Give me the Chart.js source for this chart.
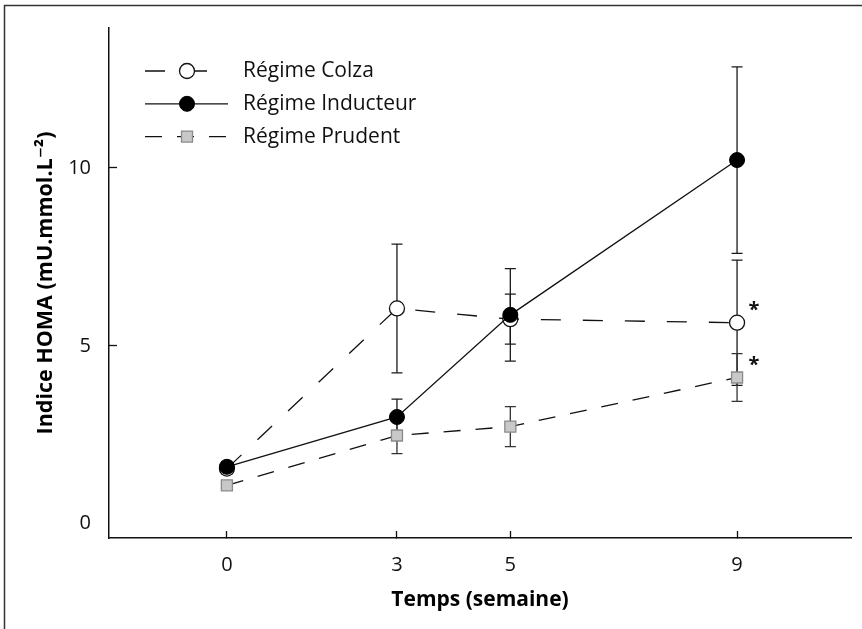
<!DOCTYPE html>
<html>
<head>
<meta charset="utf-8">
<script src="https://cdn.jsdelivr.net/npm/chart.js@4.4.0/dist/chart.umd.min.js"></script>
<style>
  html, body { margin: 0; padding: 0; background: #fff; }
  #wrap { width: 862px; height: 629px; }
</style>
</head>
<body>
<div id="wrap"><canvas id="homa"></canvas></div>
<script>
// HOMA index by week, mean +/- error
const weeks = [0, 3, 5, 9];
const colza = [1.55, 6.05, 5.75, 5.65];
const colzaErr = [0.15, 1.81, 0.7, 1.76];
const inducteur = [1.6, 3.0, 5.87, 10.22];
const inducteurErr = [0.15, 0.5, 1.3, 2.62];
const prudent = [1.08, 2.48, 2.73, 4.11];
const prudentErr = [0.12, 0.51, 0.56, 0.67];
const colzaSig = [false, false, false, true];
const prudentSig = [false, false, false, true];
const yTicks = [0, 5, 10];
const names = ["Régime Colza", "Régime Inducteur", "Régime Prudent"];

const FONT = "'Open Sans', 'DejaVu Sans', sans-serif";

function pts(vals) {
  return weeks.map((w, i) => ({ x: w, y: vals[i] }));
}

const frame = {
  id: "frame",
  beforeDraw(chart) {
    const ctx = chart.ctx;
    ctx.save();
    ctx.fillStyle = "#fff";
    ctx.fillRect(0, 0, chart.width, chart.height);
    ctx.strokeStyle = "#333";
    ctx.lineWidth = 1.5;
    ctx.beginPath();
    ctx.moveTo(4.5, chart.height);
    ctx.lineTo(4.5, 5.5);
    ctx.lineTo(chart.width, 5.5);
    ctx.stroke();
    ctx.restore();
  }
};

const errorBars = {
  id: "errorBars",
  beforeDatasetsDraw(chart) {
    const { ctx, scales: { x, y } } = chart;
    chart.data.datasets.forEach((ds) => {
      ctx.save();
      ctx.strokeStyle = ds.errColor;
      ctx.lineWidth = 1.3;
      ds.data.forEach((p, i) => {
        const px = x.getPixelForValue(p.x);
        const top = y.getPixelForValue(p.y + ds.err[i]);
        const bot = y.getPixelForValue(p.y - ds.err[i]);
        ctx.beginPath();
        ctx.moveTo(px, top); ctx.lineTo(px, bot);
        ctx.moveTo(px - 5.5, top); ctx.lineTo(px + 5.5, top);
        ctx.moveTo(px - 5.5, bot); ctx.lineTo(px + 5.5, bot);
        ctx.stroke();
      });
      ctx.restore();
    });
  },
  afterDatasetsDraw(chart) {
    const { ctx, scales: { x, y } } = chart;
    ctx.save();
    ctx.fillStyle = "#111";
    ctx.font = "bold 20px " + FONT;
    ctx.textAlign = "center";
    ctx.textBaseline = "middle";
    chart.data.datasets.forEach((ds) => {
      if (!ds.sig) return;
      ds.data.forEach((p, i) => {
        if (!ds.sig[i]) return;
        ctx.fillText("*", x.getPixelForValue(p.x) + 17, y.getPixelForValue(p.y) - 12);
      });
    });
    ctx.restore();
  }
};

const legendBox = {
  id: "legendBox",
  afterDraw(chart) {
    const { ctx, chartArea } = chart;
    const x0 = chartArea.left + 36, x1 = chartArea.left + 119, mx = chartArea.left + 78;
    chart.data.datasets.forEach((ds, i) => {
      const yy = chartArea.top + 43 + i * 32.8;
      ctx.save();
      ctx.strokeStyle = ds.borderColor;
      ctx.lineWidth = ds.borderWidth;
      ctx.setLineDash(ds.borderDash || []);
      ctx.beginPath();
      ctx.moveTo(x0, yy); ctx.lineTo(x1, yy);
      ctx.stroke();
      ctx.setLineDash([]);
      ctx.fillStyle = ds.pointBackgroundColor;
      ctx.strokeStyle = ds.pointBorderColor;
      ctx.lineWidth = ds.pointBorderWidth;
      Chart.helpers.drawPoint(ctx, { pointStyle: ds.pointStyle, radius: ds.pointRadius, borderWidth: ds.pointBorderWidth, rotation: 0 }, mx, yy);
      ctx.fillStyle = "#111";
      ctx.font = "21px " + FONT;
      ctx.textBaseline = "middle";
      ctx.textAlign = "left";
      ctx.fillText(ds.label, chartArea.left + 134, yy);
      ctx.restore();
    });
  }
};

new Chart(document.getElementById("homa"), {
  type: "line",
  data: {
    datasets: [
      {
        label: names[0], data: pts(colza), err: colzaErr, sig: colzaSig, errColor: "#1a1a1a", order: 1,
        borderColor: "#111", borderWidth: 1.3, borderDash: [20, 22],
        pointStyle: "circle", pointRadius: 7.5, pointBackgroundColor: "#fff",
        pointBorderColor: "#111", pointBorderWidth: 1.3
      },
      {
        label: names[1], data: pts(inducteur), err: inducteurErr, errColor: "#1a1a1a", order: 0,
        borderColor: "#111", borderWidth: 1.3,
        pointStyle: "circle", pointRadius: 7.5, pointBackgroundColor: "#000",
        pointBorderColor: "#000", pointBorderWidth: 1
      },
      {
        label: names[2], data: pts(prudent), err: prudentErr, sig: prudentSig, errColor: "#333", order: 2,
        borderColor: "#111", borderWidth: 1.3, borderDash: [17, 15],
        pointStyle: "rect", pointRadius: 7.8, pointBackgroundColor: "#c8c8c8",
        pointBorderColor: "#8a8a8a", pointBorderWidth: 1.3
      }
    ]
  },
  options: {
    responsive: true,
    maintainAspectRatio: false,
    animation: false,
    layout: { padding: { top: 28, right: 11, left: 0, bottom: 0 } },
    plugins: { legend: { display: false }, tooltip: { enabled: false } },
    elements: { line: { tension: 0 } },
    scales: {
      x: {
        type: "linear", min: -2.08, max: 11.01,
        afterBuildTicks: (s) => { s.ticks = weeks.map((v) => ({ value: v })); },
        afterFit: (s) => { s.height = 91; s.paddingLeft = 0; s.paddingRight = 0; },
        border: { display: true, color: "#111", width: 1.5 },
        grid: { display: true, drawOnChartArea: false, tickLength: -7, tickColor: "#111", tickWidth: 1.3 },
        ticks: { color: "#111", font: { family: FONT, size: 20 }, padding: 22, maxRotation: 0 },
        title: { display: true, text: "Temps (semaine)", color: "#000", font: { family: FONT, size: 21, weight: "bold" }, padding: { top: 0, bottom: 16 } }
      },
      y: {
        type: "linear", min: -0.4, max: 13.93,
        afterBuildTicks: (s) => { s.ticks = yTicks.map((v) => ({ value: v })); },
        afterFit: (s) => { s.width = 109; s.paddingTop = 0; s.paddingBottom = 0; },
        border: { display: true, color: "#111", width: 1.5 },
        grid: {
          display: true, drawOnChartArea: false, tickLength: -8, tickWidth: 1.3,
          tickColor: (c) => (c.tick && c.tick.value === 0 ? "rgba(0,0,0,0)" : "#111")
        },
        ticks: { color: "#111", font: { family: FONT, size: 20 }, padding: 26 },
        title: { display: true, text: "Indice HOMA (mU.mmol.L⁻²)", color: "#000", font: { family: FONT, size: 21.5, weight: "bold" }, padding: { top: 33, bottom: 0 } }
      }
    }
  },
  plugins: [frame, errorBars, legendBox]
});
</script>
</body>
</html>
